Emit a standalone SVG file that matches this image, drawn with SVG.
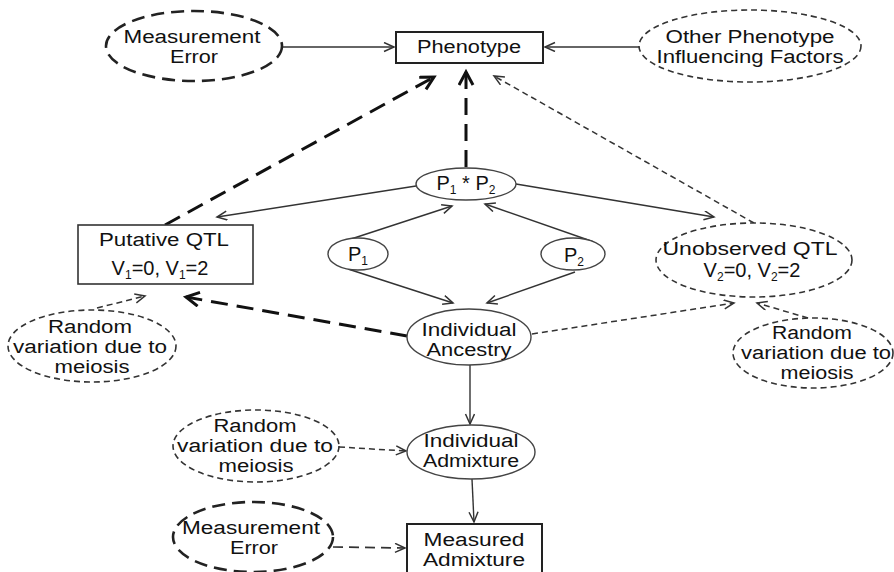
<svg xmlns="http://www.w3.org/2000/svg" width="894" height="572" viewBox="0 0 894 572">
<style>
text{font-family:"Liberation Sans",Arial,sans-serif;font-size:18px;fill:#111;text-anchor:middle}
.sub{font-size:12px}
.box{fill:#fff;stroke:#222;stroke-width:2}
.node{fill:#fff;stroke:#444;stroke-width:1.4}
.thickdash{fill:#fff;stroke:#222;stroke-width:2.6;stroke-dasharray:13 7}
.thindash{fill:#fff;stroke:#333;stroke-width:1.6;stroke-dasharray:6 4}
.c{fill:none;stroke:#333;stroke-width:1.4}
.cthick{fill:none;stroke:#111;stroke-width:3;stroke-dasharray:17 9}
.cthin{fill:none;stroke:#333;stroke-width:1.5;stroke-dasharray:6 4}
.cmed{fill:none;stroke:#333;stroke-width:1.7;stroke-dasharray:10 6}
</style>
<defs>
<marker id="a" markerUnits="userSpaceOnUse" markerWidth="14" markerHeight="12" refX="11" refY="5" orient="auto"><path d="M1,0.5 L11,5 L1,9.5" fill="none" stroke="#333" stroke-width="1.5"/></marker>
<marker id="ak" markerUnits="userSpaceOnUse" markerWidth="18" markerHeight="18" refX="14" refY="8" orient="auto"><path d="M1,1 L14,8 L1,15" fill="none" stroke="#111" stroke-width="3"/></marker>
</defs>
<g id="connectors">
<line class="c" x1="282" y1="47" x2="394" y2="47" marker-end="url(#a)"/>
<line class="c" x1="639" y1="47" x2="545" y2="47" marker-end="url(#a)"/>
<line class="cthick" x1="466" y1="167" x2="466" y2="72" marker-end="url(#ak)"/>
<line class="cthick" x1="165" y1="225" x2="434" y2="77" marker-end="url(#ak)"/>
<line class="cthin" x1="754" y1="223" x2="494" y2="76" marker-end="url(#a)"/>
<line class="c" x1="416" y1="186" x2="217" y2="217" marker-end="url(#a)"/>
<line class="c" x1="516" y1="184" x2="714" y2="217" marker-end="url(#a)"/>
<line class="c" x1="348" y1="240" x2="452" y2="206" marker-end="url(#a)"/>
<line class="c" x1="348" y1="269" x2="453" y2="303" marker-end="url(#a)"/>
<line class="c" x1="594" y1="242" x2="485" y2="204" marker-end="url(#a)"/>
<line class="c" x1="575" y1="272" x2="487" y2="303" marker-end="url(#a)"/>
<line class="cthick" x1="407" y1="336" x2="186" y2="297" marker-end="url(#ak)"/>
<line class="cthin" x1="532" y1="334" x2="734" y2="303" marker-end="url(#a)"/>
<line class="cthin" x1="97" y1="308" x2="145" y2="296" marker-end="url(#a)"/>
<line class="cthin" x1="808" y1="318" x2="757" y2="303" marker-end="url(#a)"/>
<line class="c" x1="470" y1="365" x2="470" y2="424" marker-end="url(#a)"/>
<line class="cthin" x1="339" y1="447" x2="406" y2="451" marker-end="url(#a)"/>
<line class="c" x1="472" y1="479" x2="474" y2="522" marker-end="url(#a)"/>
<line class="cmed" x1="333" y1="547" x2="405" y2="548" marker-end="url(#a)"/>
</g>
<g id="measurement-error-top">
<ellipse class="thickdash" cx="194" cy="46" rx="88" ry="35"/>
<text x="192" y="43" textLength="137" lengthAdjust="spacingAndGlyphs">Measurement</text>
<text x="194" y="63" textLength="48" lengthAdjust="spacingAndGlyphs">Error</text>
</g>
<g id="phenotype">
<rect class="box" x="396" y="32" width="147" height="31"/>
<text x="469" y="53" textLength="104" lengthAdjust="spacingAndGlyphs">Phenotype</text>
</g>
<g id="other-factors">
<ellipse class="thindash" cx="750" cy="46" rx="111" ry="36"/>
<text x="750" y="43" textLength="169" lengthAdjust="spacingAndGlyphs">Other Phenotype</text>
<text x="750" y="63" textLength="187" lengthAdjust="spacingAndGlyphs">Influencing Factors</text>
</g>
<g id="p1p2">
<ellipse class="node" cx="466" cy="184" rx="50" ry="16"/>
<text x="466" y="190" style="font-size:20px">P<tspan class="sub" dy="4">1</tspan><tspan dy="-4"> * P</tspan><tspan class="sub" dy="4">2</tspan></text>
</g>
<g id="putative-qtl">
<rect class="node" x="78" y="225" width="175" height="59" style="stroke:#333;stroke-width:1.6"/>
<text x="164" y="246" textLength="130" lengthAdjust="spacingAndGlyphs">Putative QTL</text>
<text x="160" y="275" style="font-size:20px">V<tspan class="sub" dy="4">1</tspan><tspan dy="-4">=0, V</tspan><tspan class="sub" dy="4">1</tspan><tspan dy="-4">=2</tspan></text>
</g>
<g id="p1">
<ellipse class="node" cx="358" cy="254" rx="30" ry="16"/>
<text x="358" y="261" style="font-size:20px">P<tspan class="sub" dy="4">1</tspan></text>
</g>
<g id="p2">
<ellipse class="node" cx="573" cy="254" rx="32" ry="16"/>
<text x="574" y="262" style="font-size:20px">P<tspan class="sub" dy="4">2</tspan></text>
</g>
<g id="unobserved-qtl">
<ellipse class="thindash" cx="754" cy="260" rx="98" ry="37"/>
<text x="750" y="255" textLength="175" lengthAdjust="spacingAndGlyphs">Unobserved QTL</text>
<text x="752" y="277" style="font-size:20px">V<tspan class="sub" dy="4">2</tspan><tspan dy="-4">=0, V</tspan><tspan class="sub" dy="4">2</tspan><tspan dy="-4">=2</tspan></text>
</g>
<g id="random-left">
<ellipse class="thindash" cx="92" cy="346" rx="84" ry="36"/>
<text x="90" y="333" textLength="84" lengthAdjust="spacingAndGlyphs">Random</text>
<text x="90" y="353" textLength="154" lengthAdjust="spacingAndGlyphs">variation due to</text>
<text x="92" y="373" textLength="75" lengthAdjust="spacingAndGlyphs">meiosis</text>
</g>
<g id="individual-ancestry">
<ellipse class="node" cx="469" cy="337" rx="62" ry="28"/>
<text x="469" y="336" textLength="95" lengthAdjust="spacingAndGlyphs">Individual</text>
<text x="469" y="356" textLength="85" lengthAdjust="spacingAndGlyphs">Ancestry</text>
</g>
<g id="random-right">
<ellipse class="thindash" cx="813" cy="353" rx="80" ry="35"/>
<text x="812" y="339" textLength="80" lengthAdjust="spacingAndGlyphs">Random</text>
<text x="816" y="359" textLength="150" lengthAdjust="spacingAndGlyphs">variation due to</text>
<text x="817" y="379" textLength="73" lengthAdjust="spacingAndGlyphs">meiosis</text>
</g>
<g id="random-lower">
<ellipse class="thindash" cx="256" cy="446" rx="83" ry="36"/>
<text x="255" y="432" textLength="83" lengthAdjust="spacingAndGlyphs">Random</text>
<text x="255" y="452" textLength="156" lengthAdjust="spacingAndGlyphs">variation due to</text>
<text x="256" y="472" textLength="75" lengthAdjust="spacingAndGlyphs">meiosis</text>
</g>
<g id="individual-admixture">
<ellipse class="node" cx="471" cy="452" rx="64" ry="27"/>
<text x="471" y="447" textLength="95" lengthAdjust="spacingAndGlyphs">Individual</text>
<text x="471" y="467" textLength="96" lengthAdjust="spacingAndGlyphs">Admixture</text>
</g>
<g id="measurement-error-lower">
<ellipse class="thickdash" cx="253" cy="537" rx="80" ry="35"/>
<text x="251" y="534" textLength="138" lengthAdjust="spacingAndGlyphs">Measurement</text>
<text x="254" y="554" textLength="48" lengthAdjust="spacingAndGlyphs">Error</text>
</g>
<g id="measured-admixture">
<rect class="box" x="407" y="524" width="135" height="56"/>
<text x="474" y="546" textLength="101" lengthAdjust="spacingAndGlyphs">Measured</text>
<text x="474" y="566" textLength="102" lengthAdjust="spacingAndGlyphs">Admixture</text>
</g>
</svg>
